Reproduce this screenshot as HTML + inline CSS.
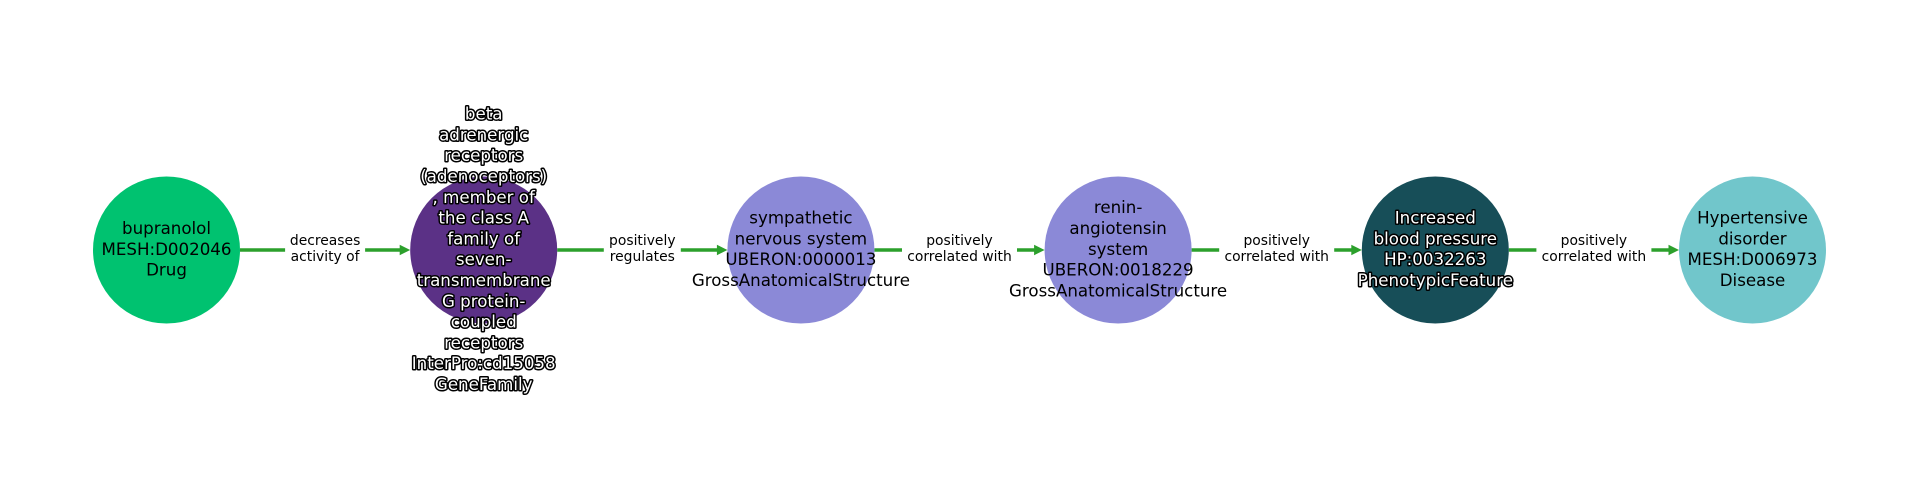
<!DOCTYPE html>
<html>
<head>
<meta charset="utf-8">
<style>
  html, body { margin:0; padding:0; background:#ffffff; }
  body { width:1920px; height:500px; overflow:hidden; }
  svg { display:block; }
  .nt { font-family:"DejaVu Sans","Liberation Sans",sans-serif; font-size:16.67px; text-anchor:middle; dominant-baseline:central; fill:#000; }
  .ol { fill:#ffffff; stroke:#000000; stroke-width:3px; paint-order:stroke; stroke-linejoin:round; }
  .et { font-family:"DejaVu Sans","Liberation Sans",sans-serif; font-size:13.89px; text-anchor:middle; dominant-baseline:central; fill:#000; }
</style>
</head>
<body>
<svg width="1920" height="500" viewBox="0 0 1920 500" xmlns="http://www.w3.org/2000/svg">
  <rect x="0" y="0" width="1920" height="500" fill="#ffffff"/>

  <!-- edges -->
  <g stroke="#2ca02c" stroke-width="3.5" fill="none">
    <line x1="240" y1="250" x2="401" y2="250"/>
    <line x1="557.2" y1="250" x2="718.4" y2="250"/>
    <line x1="874.4" y1="250" x2="1035.6" y2="250"/>
    <line x1="1191.6" y1="250" x2="1352.8" y2="250"/>
    <line x1="1508.8" y1="250" x2="1670" y2="250"/>
  </g>
  <g fill="#2ca02c">
    <polygon points="399.7,244.8 410.2,250 399.7,255.2"/>
    <polygon points="716.9,244.8 727.4,250 716.9,255.2"/>
    <polygon points="1034.1,244.8 1044.6,250 1034.1,255.2"/>
    <polygon points="1351.3,244.8 1361.8,250 1351.3,255.2"/>
    <polygon points="1668.5,244.8 1679,250 1668.5,255.2"/>
  </g>

  <!-- edge label boxes -->
  <g fill="#ffffff">
    <rect x="285.1" y="230" width="80" height="40" rx="4"/>
    <rect x="603.8" y="230" width="77" height="40" rx="4"/>
    <rect x="902" y="230" width="115" height="40" rx="4"/>
    <rect x="1219.2" y="230" width="115" height="40" rx="4"/>
    <rect x="1536.4" y="230" width="115" height="40" rx="4"/>
  </g>
  <g class="et">
    <text x="325.1" y="241">decreases</text>
    <text x="325.1" y="257">activity of</text>
    <text x="642.3" y="241">positively</text>
    <text x="642.3" y="257">regulates</text>
    <text x="959.5" y="241">positively</text>
    <text x="959.5" y="257">correlated with</text>
    <text x="1276.7" y="241">positively</text>
    <text x="1276.7" y="257">correlated with</text>
    <text x="1593.9" y="241">positively</text>
    <text x="1593.9" y="257">correlated with</text>
  </g>

  <!-- nodes -->
  <circle cx="166.5" cy="250" r="73.5" fill="#00c270"/>
  <circle cx="483.7" cy="250" r="73.5" fill="#5b3186"/>
  <circle cx="800.9" cy="250" r="73.5" fill="#8b89d7"/>
  <circle cx="1118.1" cy="250" r="73.5" fill="#8b89d7"/>
  <circle cx="1435.3" cy="250" r="73.5" fill="#174e58"/>
  <circle cx="1752.5" cy="250" r="73.5" fill="#71c6cb"/>

  <!-- node 1 -->
  <g class="nt">
    <text x="166.5" y="228.5">bupranolol</text>
    <text x="166.5" y="249.3">MESH:D002046</text>
    <text x="166.5" y="270.1">Drug</text>
  </g>

  <!-- node 2 (outlined) -->
  <g class="nt ol">
    <text x="483.7" y="114.1">beta</text>
    <text x="483.7" y="134.9">adrenergic</text>
    <text x="483.7" y="155.7">receptors</text>
    <text x="483.7" y="176.5">(adenoceptors)</text>
    <text x="483.7" y="197.3">, member of</text>
    <text x="483.7" y="218.1">the class A</text>
    <text x="483.7" y="238.9">family of</text>
    <text x="483.7" y="259.7">seven-</text>
    <text x="483.7" y="280.5">transmembrane</text>
    <text x="483.7" y="301.3">G protein-</text>
    <text x="483.7" y="322.1">coupled</text>
    <text x="483.7" y="342.9">receptors</text>
    <text x="483.7" y="363.7">InterPro:cd15058</text>
    <text x="483.7" y="384.5">GeneFamily</text>
  </g>

  <!-- node 3 -->
  <g class="nt">
    <text x="800.9" y="218.1">sympathetic</text>
    <text x="800.9" y="238.9">nervous system</text>
    <text x="800.9" y="259.7">UBERON:0000013</text>
    <text x="800.9" y="280.5">GrossAnatomicalStructure</text>
  </g>

  <!-- node 4 -->
  <g class="nt">
    <text x="1118.1" y="207.7">renin-</text>
    <text x="1118.1" y="228.5">angiotensin</text>
    <text x="1118.1" y="249.3">system</text>
    <text x="1118.1" y="270.1">UBERON:0018229</text>
    <text x="1118.1" y="290.9">GrossAnatomicalStructure</text>
  </g>

  <!-- node 5 (outlined) -->
  <g class="nt ol">
    <text x="1435.3" y="218.1">Increased</text>
    <text x="1435.3" y="238.9">blood pressure</text>
    <text x="1435.3" y="259.7">HP:0032263</text>
    <text x="1435.3" y="280.5">PhenotypicFeature</text>
  </g>

  <!-- node 6 -->
  <g class="nt">
    <text x="1752.5" y="218.1">Hypertensive</text>
    <text x="1752.5" y="238.9">disorder</text>
    <text x="1752.5" y="259.7">MESH:D006973</text>
    <text x="1752.5" y="280.5">Disease</text>
  </g>
</svg>
</body>
</html>
